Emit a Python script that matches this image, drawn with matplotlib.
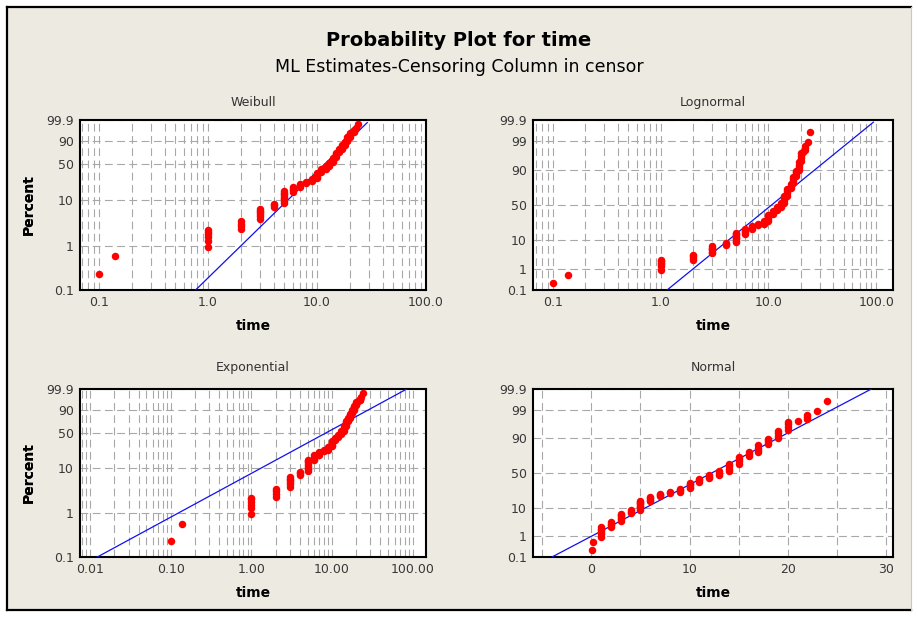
import math
import numpy as np
import matplotlib.pyplot as plt
from matplotlib.patches import Rectangle
from matplotlib.lines import Line2D
from matplotlib.ticker import LogLocator, NullLocator, NullFormatter, FixedLocator

# failure times and their plotted percents (one cluster per line)
fail_time = [0.1, 0.14,
             1, 1, 1, 1, 1, 1,
             2, 2, 2, 2,
             3, 3, 3, 3, 3, 3,
             4, 4, 4,
             5, 5, 5, 5, 5, 5, 5, 5,
             6, 6, 6, 6,
             7, 7, 7,
             8, 8,
             9, 9, 9,
             10, 10, 10, 10, 10,
             11, 11, 11,
             12, 12, 12,
             13, 13, 13,
             14, 14, 14, 14,
             15, 15, 15, 15,
             16, 16, 16,
             17, 17, 17, 17,
             18, 18, 18, 18,
             19, 19, 19, 19,
             20, 20, 20, 20,
             21,
             22, 22, 22,
             23,
             24]
fail_pct = [0.23, 0.57,
            0.95, 1.3, 1.55, 1.8, 2.05, 2.25,
            2.35, 2.7, 3.1, 3.5,
            4.0, 4.5, 5.0, 5.5, 6.0, 6.6,
            7.2, 7.8, 8.5,
            8.8, 9.6, 10.5, 11.5, 12.5, 13.5, 14.5, 15.5,
            15.0, 16.3, 17.6, 19.0,
            19.5, 21.0, 22.3,
            23.2, 24.2,
            24.8, 26.2, 27.5,
            28.5, 30.5, 32.5, 34.5, 36.0,
            37.5, 39.5, 41.5,
            42.5, 44.5, 46.5,
            47.5, 50.0, 52.5,
            53.5, 56.5, 59.5, 62.5,
            63.5, 66.5, 69.5, 72.0,
            73.0, 75.5, 77.5,
            78.5, 80.5, 82.5, 84.5,
            85.5, 87.0, 88.5, 89.5,
            90.0, 91.5, 92.8, 94.0,
            94.5, 95.5, 96.3, 97.0,
            97.3,
            97.7, 98.1, 98.4,
            98.9,
            99.6]

# fitted lines (end points)
weibull_fit_time = [0.77, 28.9]
weibull_fit_pct = [0.1, 99.76]
lognormal_fit_time = [1.15, 93.8]
lognormal_fit_pct = [0.1, 99.87]
expo_fit_time = [0.0123, 85.0]
expo_fit_pct = [0.1, 99.9]
normal_fit_time = [-4.0, 28.5]
normal_fit_pct = [0.1, 99.9]

weib_yticks = [0.1, 1, 10, 50, 90, 99.9]
weib_ylabels = ['0.1', '1', '10', '50', '90', '99.9']
norm_yticks = [0.1, 1, 10, 50, 90, 99, 99.9]
norm_ylabels = ['0.1', '1', '10', '50', '90', '99', '99.9']


# probability scales
def weib_fwd(p):
    p = np.clip(np.asarray(p, dtype=float) / 100.0, 1e-9, 1 - 1e-9)
    return np.log(-np.log(1 - p))


def weib_inv(y):
    y = np.clip(np.asarray(y, dtype=float), -30, 5)
    return 100.0 * (1 - np.exp(-np.exp(y)))


# inverse normal cdf (Acklam)
_a = [-3.969683028665376e+01, 2.209460984245205e+02, -2.759285104469687e+02,
      1.383577518672690e+02, -3.066479806614716e+01, 2.506628277459239e+00]
_b = [-5.447609879822406e+01, 1.615858368580409e+02, -1.556989798598866e+02,
      6.680131188771972e+01, -1.328068155288572e+01]
_c = [-7.784894002430293e-03, -3.223964580411365e-01, -2.400758277161838e+00,
      -2.549732539343734e+00, 4.374664141464968e+00, 2.938163982698783e+00]
_d = [7.784695709041462e-03, 3.224671290700398e-01, 2.445134137142996e+00,
      3.754408661907416e+00]


def ndtri(p):
    p = np.asarray(p, dtype=float)
    shape = p.shape
    p = np.clip(p.ravel(), 1e-12, 1 - 1e-12)
    out = np.empty_like(p)
    lo = p < 0.02425
    hi = p > 1 - 0.02425
    mid = ~(lo | hi)
    q = np.sqrt(-2 * np.log(p[lo]))
    out[lo] = (((((_c[0]*q+_c[1])*q+_c[2])*q+_c[3])*q+_c[4])*q+_c[5]) / \
              ((((_d[0]*q+_d[1])*q+_d[2])*q+_d[3])*q+1)
    q = np.sqrt(-2 * np.log(1 - p[hi]))
    out[hi] = -(((((_c[0]*q+_c[1])*q+_c[2])*q+_c[3])*q+_c[4])*q+_c[5]) / \
              ((((_d[0]*q+_d[1])*q+_d[2])*q+_d[3])*q+1)
    q = p[mid] - 0.5
    r = q * q
    out[mid] = (((((_a[0]*r+_a[1])*r+_a[2])*r+_a[3])*r+_a[4])*r+_a[5])*q / \
               (((((_b[0]*r+_b[1])*r+_b[2])*r+_b[3])*r+_b[4])*r+1)
    return out.reshape(shape)


_erf = np.vectorize(math.erf)


def norm_fwd(p):
    return ndtri(np.asarray(p, dtype=float) / 100.0)


def norm_inv(z):
    z = np.asarray(z, dtype=float)
    return 100.0 * 0.5 * (1 + _erf(z / math.sqrt(2)))


W, H = 918, 618
BG = '#EDEAE2'
GRID = dict(color='#A8A8A8', linestyle=(0, (7, 4)), linewidth=0.8)

fig = plt.figure(figsize=(W / 100, H / 100), dpi=100)
fig.patch.set_facecolor('white')

# beige panel with frame
fig.add_artist(Rectangle((7 / W, 1 - 610 / H), 904 / W, 603 / H,
                         transform=fig.transFigure, facecolor=BG, edgecolor='none', zorder=-10))
for xs, ys, c, lw in [([7, 7], [7, 610], 'black', 1.6),
                      ([7, 911], [7, 7], 'black', 1.6),
                      ([7, 911], [610, 610], 'black', 1.6),
                      ([911, 911], [7, 610], '#C8C8C8', 0.8)]:
    fig.add_artist(Line2D([x / W for x in xs], [1 - y / H for y in ys],
                          transform=fig.transFigure, color=c, linewidth=lw, zorder=-5))

fig.text(0.5, 1 - 46 / H, 'Probability Plot for time', ha='center', va='baseline',
         fontsize=14, fontweight='bold')
fig.text(0.5, 1 - 72.3 / H, 'ML Estimates-Censoring Column in censor', ha='center',
         va='baseline', fontsize=12.5)

panels = [
    # title, rect(px: left, top, right, bottom), scale, xlim, xticks, xlabels, fit, title pad
    ('Weibull', (80, 120, 426, 290), 'weib', (0.067, 100), [0.1, 1, 10, 100],
     ['0.1', '1.0', '10.0', '100.0'], (weibull_fit_time, weibull_fit_pct), 10.4),
    ('Lognormal', (533, 120, 893, 290), 'norm', (0.0658, 142.5), [0.1, 1, 10, 100],
     ['0.1', '1.0', '10.0', '100.0'], (lognormal_fit_time, lognormal_fit_pct), 10.4),
    ('Exponential', (80, 389, 426, 557), 'weib', (0.0075, 147), [0.01, 0.1, 1, 10, 100],
     ['0.01', '0.10', '1.00', '10.00', '100.00'], (expo_fit_time, expo_fit_pct), 12.7),
    ('Normal', (533, 389, 893, 557), 'norm', (-5.93, 30.7), [0, 10, 20, 30],
     ['0', '10', '20', '30'], (normal_fit_time, normal_fit_pct), 12.7),
]

for title, (l, t, r, b), scale, xlim, xticks, xlabels, fit, tpad in panels:
    ax = fig.add_axes([l / W, 1 - b / H, (r - l) / W, (b - t) / H])
    ax.set_facecolor('white')

    if scale == 'weib':
        ax.set_yscale('function', functions=(weib_fwd, weib_inv))
        yt, yl = weib_yticks, weib_ylabels
    else:
        ax.set_yscale('function', functions=(norm_fwd, norm_inv))
        yt, yl = norm_yticks, norm_ylabels

    if title != 'Normal':
        ax.set_xscale('log')
        ax.xaxis.set_major_locator(FixedLocator(xticks))
        ax.xaxis.set_minor_locator(LogLocator(base=10, subs=np.arange(2, 10)))
        ax.xaxis.set_minor_formatter(NullFormatter())
        ax.set_xticklabels(xlabels)
    else:
        ax.set_xticks(xticks, labels=xlabels)
        ax.xaxis.set_minor_locator(FixedLocator([-5, 5, 15, 25]))

    ax.set_xlim(*xlim)
    ax.set_ylim(0.1, 99.9)
    ax.set_yticks(yt, labels=yl)
    ax.yaxis.set_minor_locator(NullLocator())

    ax.grid(True, which='major', axis='both', **GRID)
    ax.grid(True, which='minor', axis='x', **GRID)
    ax.set_axisbelow(True)

    ax.plot(fit[0], fit[1], color='#1010F0', linewidth=0.9, zorder=3)
    ax.plot(fail_time, fail_pct, 'o', color='#FF0000', markersize=5.4,
            markeredgewidth=0, zorder=4)

    for s in ax.spines.values():
        s.set_linewidth(1.5)
        s.set_color('black')
    ax.tick_params(which='both', length=0, labelsize=9, labelcolor='#383838')
    ax.tick_params(axis='both', pad=4.5)

    ax.set_title(title, fontsize=9, color='#333333', pad=tpad)
    ax.set_xlabel('time', fontsize=10, fontweight='bold')
    ax.set_ylabel('Percent', fontsize=10, fontweight='bold')
    ax.xaxis.set_label_coords(0.5, -29.0 / (b - t))
    ax.yaxis.set_label_coords(-(l - 36) / (r - l), 0.5)

fig.savefig('out.png', dpi=100)
